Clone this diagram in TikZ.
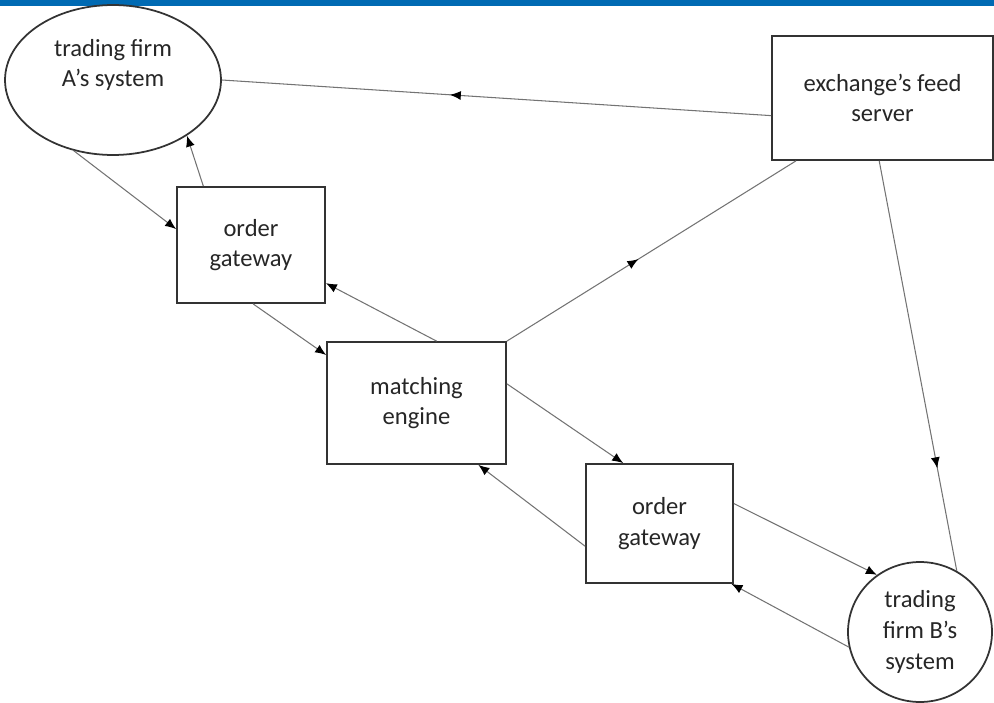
\documentclass[tikz,border=0pt]{standalone}
\usepackage{fontspec}
\setmainfont{Carlito}
\usetikzlibrary{shapes.geometric,arrows.meta,decorations.markings}
\definecolor{barblue}{RGB}{0,106,179}
\tikzset{
  label text/.style={align=center, font=\fontsize{14}{17.5}\selectfont, text=black!85},
  sysbox/.style={label text, draw=black!80, line width=1pt, inner sep=0pt},
  firm/.style={ellipse, draw=black!80, line width=1pt, inner sep=0pt},
  link/.style={draw=black!55, line width=0.6pt},
  flow/.style={link, -{Latex[length=2.2mm,width=1.8mm,black]}},
  midflow/.style={link, postaction={decorate},
    decoration={markings, mark=at position #1 with {\arrow{Latex[length=2.2mm,width=1.8mm,black]}}}}
}
\begin{document}
\begin{tikzpicture}[x=0.02cm, y=-0.02cm]
\useasboundingbox (0,0) rectangle (994,703);
\fill[barblue] (0,0) rectangle (994,6);

% trading firms
\node[firm, minimum width=4.32cm, minimum height=3cm] (Firm A) at (113,80) {};
\node[label text] (Firm A text) at (113,65) {trading firm\\A's system};
\node[firm, label text, minimum width=2.88cm, minimum height=2.8cm] (Firm B) at (920,632) {trading\\firm B's\\system};

% exchange side
\node[sysbox, minimum width=4.42cm, minimum height=2.48cm] (Feed) at (882.5,98) {exchange's feed\\server};
\node[sysbox, minimum width=2.96cm, minimum height=2.32cm] (Gateway A) at (251,245) {order\\gateway};
\node[sysbox, minimum width=3.58cm, minimum height=2.44cm] (Engine) at (416.5,403) {matching\\engine};
\node[sysbox, minimum width=2.94cm, minimum height=2.38cm] (Gateway B) at (659.5,523.5) {order\\gateway};

% market data
\draw[midflow=0.585] (Feed.189.8) -- (Firm A.east);
\draw[midflow=0.455] (Engine.north east) -- (Feed.216.9);
\draw[midflow=0.75] (Feed.267.7) -- (Firm B.59.7);

% orders
\draw[flow] (Firm A.-119.3) -- (Gateway A.168.5);
\draw[flow] (Gateway A.129.6) -- (Firm A.-37.2);
\draw[flow] (Gateway A.-88) -- (Engine.152.3);
\draw[flow] (Engine.72.3) -- (Gateway A.-27.2);
\draw[flow] (Engine.12) -- (Gateway B.121.5);
\draw[flow] (Gateway B.197) -- (Engine.-45.2);
\draw[flow] (Gateway B.15.6) -- (Firm B.127.4);
\draw[flow] (Firm B.192.9) -- (Gateway B.-40);
\end{tikzpicture}
\end{document}
